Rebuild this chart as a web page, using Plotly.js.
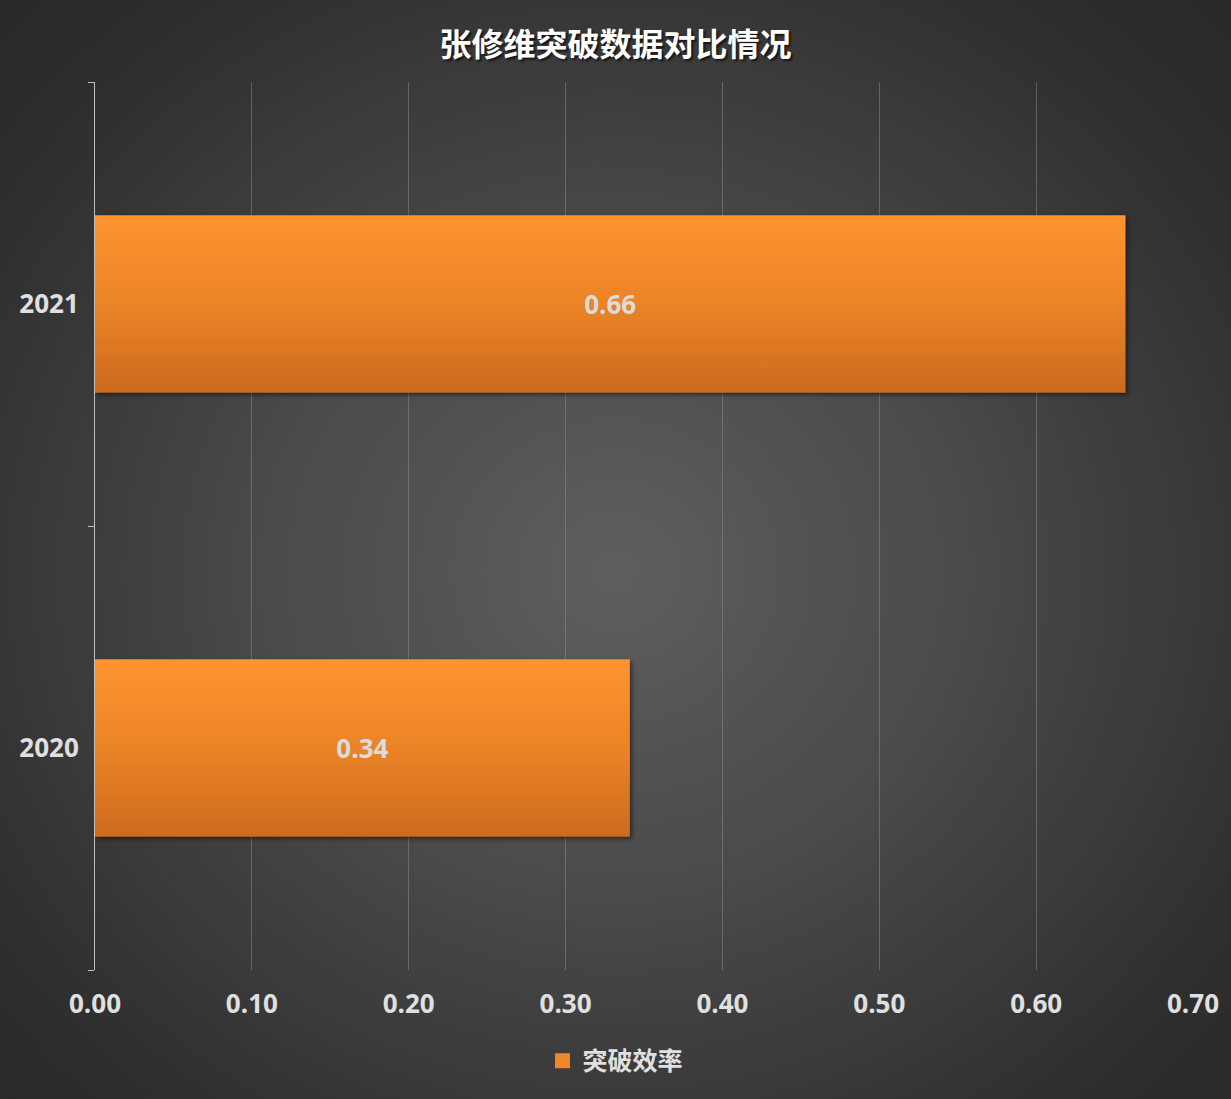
<!DOCTYPE html>
<html lang="zh">
  <head>
    <meta charset="UTF-8" />
    <title>张修维突破数据对比情况</title>
    <script src="https://cdn.plot.ly/plotly-3.0.1.min.js"></script>
    <style>
      html,
      body {
        margin: 0;
        padding: 0;
        width: 1231px;
        height: 1099px;
        overflow: hidden;
      }
      #chart {
        width: 1231px;
        height: 1099px;
        background: radial-gradient(
          ellipse at 50% 52%,
          #5e5e5e 0%,
          #4a4a4a 40%,
          #303030 80%,
          #282828 100%
        );
      }
    </style>
  </head>
  <body>
    <div id="chart"></div>

    <script>
      // data
      const years = ["2020", "2021"];
      const efficiency = [0.341, 0.657];
      const valueLabels = ["0.34", "0.66"];
      const seriesName = "突破效率";
      const xTicks = [0, 0.1, 0.2, 0.3, 0.4, 0.5, 0.6, 0.7];

      const fontFamily = '"Open Sans", "Noto Sans CJK SC", sans-serif';
      const cjkFamily = '"Noto Sans CJK SC", sans-serif';

      const trace = {
        type: "bar",
        orientation: "h",
        name: seriesName,
        y: years,
        x: efficiency,
        text: valueLabels,
        textposition: "inside",
        insidetextanchor: "middle",
        textangle: 0,
        textfont: { family: fontFamily, size: 26, color: "#dcdcdc", weight: "bold" },
        marker: { color: "#f0862a", line: { width: 0 } },
        hoverinfo: "skip",
      };

      const layout = {
        width: 1231,
        height: 1099,
        paper_bgcolor: "rgba(0,0,0,0)",
        plot_bgcolor: "rgba(0,0,0,0)",
        margin: { l: 95, r: 38, t: 82, b: 129 },
        font: { family: fontFamily, color: "#e0e0e0" },
        title: {
          text: "<b>张修维突破数据对比情况</b>",
          font: {
            family: cjkFamily,
            size: 32,
            color: "#ffffff",
            shadow: "2px 2px 2px rgba(0,0,0,0.6)",
          },
          x: 0.5,
          xanchor: "center",
          y: 0.959,
          yref: "container",
          yanchor: "middle",
        },
        bargap: 0.6,
        xaxis: {
          range: [0, 0.7],
          tickvals: xTicks,
          tickformat: ".2f",
          showgrid: true,
          gridcolor: "rgba(150,150,150,0.45)",
          gridwidth: 1,
          zeroline: false,
          showline: false,
          ticks: "",
          tickfont: { family: fontFamily, size: 26, color: "#e0e0e0", weight: "bold" },
          ticklabelstandoff: 16,
        },
        yaxis: {
          type: "category",
          categoryorder: "array",
          categoryarray: years,
          showline: true,
          linecolor: "#bfbfbf",
          linewidth: 1,
          ticks: "outside",
          tickson: "boundaries",
          ticklen: 6,
          tickcolor: "#bfbfbf",
          showgrid: false,
          zeroline: false,
          tickfont: { family: fontFamily, size: 26, color: "#e0e0e0", weight: "bold" },
          ticklabelstandoff: 10,
        },
        showlegend: true,
        legend: {
          orientation: "h",
          x: 0.5,
          xref: "container",
          xanchor: "center",
          y: 0.0346,
          yref: "container",
          yanchor: "middle",
          itemwidth: 30,
          font: { family: cjkFamily, size: 25, color: "#e0e0e0", weight: "bold" },
          bgcolor: "rgba(0,0,0,0)",
        },
      };

      function paintBars(gd) {
        // vertical orange gradient on the bars, like the original
        const svg = gd.querySelector("svg.main-svg");
        const ns = "http://www.w3.org/2000/svg";
        if (!svg.querySelector("#barGrad")) {
          const defs = document.createElementNS(ns, "defs");
          const grad = document.createElementNS(ns, "linearGradient");
          grad.setAttribute("id", "barGrad");
          grad.setAttribute("x1", "0");
          grad.setAttribute("y1", "0");
          grad.setAttribute("x2", "0");
          grad.setAttribute("y2", "1");
          [
            ["0%", "#ff942e"],
            ["50%", "#eb8427"],
            ["100%", "#cd6a1d"],
          ].forEach(function (s) {
            const stop = document.createElementNS(ns, "stop");
            stop.setAttribute("offset", s[0]);
            stop.setAttribute("stop-color", s[1]);
            grad.appendChild(stop);
          });
          defs.appendChild(grad);
          svg.insertBefore(defs, svg.firstChild);
        }
        gd.querySelectorAll("g.bars path").forEach(function (p) {
          p.style.setProperty("fill", "url(#barGrad)", "important");
          p.style.filter = "drop-shadow(2px 2px 2px rgba(0,0,0,0.5))";
        });
        // slightly bigger legend swatch
        gd.querySelectorAll(".legend .legendpoints path").forEach(function (p) {
          p.setAttribute("transform", "translate(20,0) scale(1.25)");
        });
      }

      Plotly.newPlot("chart", [trace], layout, { displayModeBar: false, staticPlot: true }).then(
        function (gd) {
          paintBars(gd);
          setTimeout(function () {
            paintBars(gd);
          }, 50);
        }
      );
    </script>
  </body>
</html>
